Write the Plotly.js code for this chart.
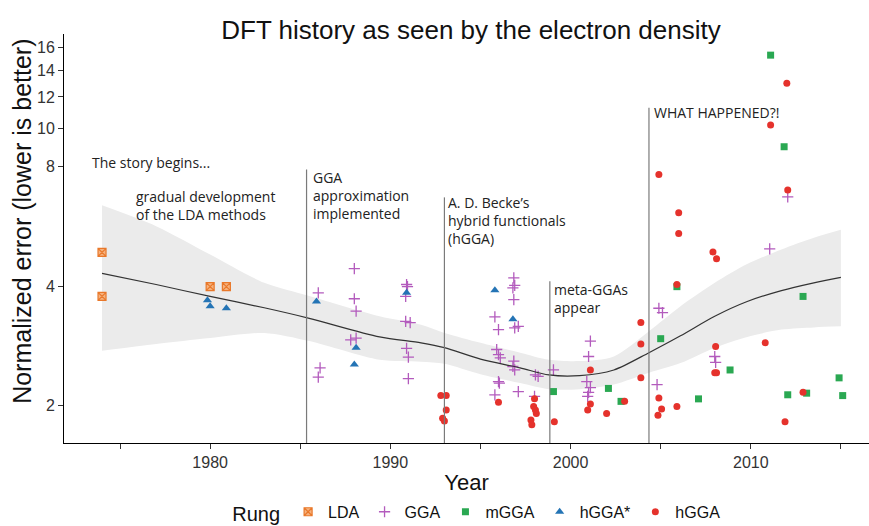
<!DOCTYPE html>
<html>
<head>
<meta charset="utf-8">
<script src="https://cdn.plot.ly/plotly-3.0.1.min.js"></script>
<style>html,body{margin:0;padding:0;background:#fff;}#chart{width:869px;height:526px;}</style>
</head>
<body>
<div id="chart"></div>
<script>
// ---- data ----
var ldaYear = [1974.0, 1974.0, 1980.0, 1980.9];
var ldaErr  = [4.87, 3.77, 3.99, 3.99];

var ggaYear = [1986.0, 1986.1, 1986.0, 1988.0, 1988.0, 1988.1, 1987.8, 1988.1,
  1990.9, 1990.95, 1990.85, 1990.85, 1991.1, 1990.9, 1991.0, 1991.0,
  1996.85, 1996.9, 1996.8, 1996.85, 1995.8, 1996.0, 1996.9, 1997.1,
  1995.9, 1996.0, 1996.1, 1996.85, 1996.8, 1996.9, 1998.05, 1998.2,
  1996.0, 1996.05, 1995.8, 1997.1, 1998.0, 1999.05,
  2001.1, 2001.0, 2000.9, 2001.1, 2001.0, 2000.95,
  2004.9, 2005.1, 2004.8, 2008.0, 2008.05, 2011.05, 2012.05];
var ggaErr = [3.85, 2.49, 2.36, 4.43, 3.72, 3.46, 2.93, 2.96,
  4.04, 3.99, 3.77, 3.26, 3.24, 2.79, 2.65, 2.34,
  4.20, 4.02, 3.96, 3.70, 3.35, 3.11, 3.14, 3.17,
  2.77, 2.69, 2.64, 2.59, 2.51, 2.46, 2.39, 2.37,
  2.30, 2.28, 2.13, 2.17, 2.11, 2.46,
  2.91, 2.66, 2.30, 2.22, 2.16, 2.11,
  3.52, 3.43, 2.26, 2.66, 2.57, 4.97, 6.72];

var mggaYear = [1999.05, 2002.1, 2002.8, 2005.0, 2005.9, 2007.1, 2008.85,
  2011.1, 2011.85, 2012.05, 2013.1, 2012.9, 2014.9, 2015.1];
var mggaErr = [2.17, 2.21, 2.05, 2.95, 3.99, 2.08, 2.46,
  15.3, 8.99, 2.13, 2.15, 3.77, 2.35, 2.12];

var hggaStarYear = [1979.85, 1980.0, 1980.9, 1985.9, 1988.1, 1988.0, 1990.9, 1995.8, 1996.8];
var hggaStarErr  = [3.69, 3.56, 3.52, 3.66, 2.80, 2.54, 3.85, 3.91, 3.30];

var hggaYear = [1992.8, 1993.1, 1993.1, 1992.9, 1993.0, 1996.0,
  1998.0, 1997.95, 1998.05, 1998.1, 1997.8, 1997.85, 1999.1,
  2001.1, 2001.1, 2000.95, 2003.0, 2002.0,
  2003.9, 2003.9, 2003.9, 2004.9, 2005.05, 2004.85, 2004.9,
  2006.0, 2006.0, 2005.9, 2005.9, 2007.9, 2008.1, 2010.8, 2008.05,
  2008.0, 2008.1, 2012.9, 2011.9, 2011.1, 2012.0, 2012.05];
var hggaErr = [2.12, 2.12, 1.95, 1.86, 1.83, 2.04,
  2.08, 1.99, 1.95, 1.91, 1.84, 1.79, 1.82,
  2.46, 2.02, 1.95, 2.05, 1.91,
  3.24, 2.86, 2.35, 2.09, 1.96, 1.89, 7.65,
  6.13, 5.43, 4.04, 1.99, 4.88, 4.69, 2.88, 2.82,
  2.42, 2.42, 2.16, 1.82, 10.2, 12.99, 6.99];

// smoothed trend and its confidence band
var smoothYear  = [1974, 1977, 1980, 1983, 1985.5, 1989.4, 1991.7, 1993, 1995, 1997.2, 1998.8, 2000.5, 2002.4, 2004.35, 2006.1, 2008, 2009.8, 2011.7, 2013.5, 2015];
var smoothFit   = [4.31, 4.04, 3.77, 3.53, 3.32, 2.98, 2.88, 2.80, 2.62, 2.49, 2.39, 2.38, 2.46, 2.72, 3.00, 3.36, 3.66, 3.90, 4.08, 4.21];
var smoothUpper = [6.40, 5.67, 4.81, 4.08, 3.78, 3.36, 3.20, 3.05, 2.88, 2.72, 2.61, 2.59, 2.66, 3.08, 3.56, 4.08, 4.55, 4.95, 5.30, 5.55];
var smoothLower = [2.75, 2.86, 2.96, 3.05, 2.91, 2.61, 2.58, 2.55, 2.40, 2.28, 2.20, 2.20, 2.26, 2.42, 2.56, 2.80, 2.98, 3.11, 3.15, 3.17];

// milestones
var eventYear = [1985.35, 1993.0, 1998.85, 2004.35];
var eventTop  = [7.88, 6.70, 4.12, 11.28];

var xTickVals = [1975, 1980, 1985, 1990, 1995, 2000, 2005, 2010, 2015];
var xTickText = ['', '1980', '', '1990', '', '2000', '', '2010', ''];
var yTickVals = [2, 4, 8, 10, 12, 14, 16];
var yTickText = ['2', '4', '8', '10', '12', '14', '16'];

// ---- traces ----
var traces = [
  {x: smoothYear, y: smoothLower, type: 'scatter', mode: 'lines',
   line: {width: 0, color: 'rgba(0,0,0,0)', shape: 'spline', smoothing: 0.8}, hoverinfo: 'skip', showlegend: false},
  {x: smoothYear, y: smoothUpper, type: 'scatter', mode: 'lines', fill: 'tonexty', fillcolor: '#ebebeb',
   line: {width: 0, color: 'rgba(0,0,0,0)', shape: 'spline', smoothing: 0.8}, hoverinfo: 'skip', showlegend: false},
  {x: ldaYear, y: ldaErr, type: 'scatter', mode: 'markers', name: 'LDA',
   marker: {symbol: 'square-x', size: 8, color: '#f6b27e', line: {color: '#e9782a', width: 1.2}}},
  {x: ggaYear, y: ggaErr, type: 'scatter', mode: 'markers', name: 'GGA',
   marker: {symbol: 'cross-thin-open', size: 8, color: '#b35bbd', line: {color: '#b35bbd', width: 1.3}}},
  {x: mggaYear, y: mggaErr, type: 'scatter', mode: 'markers', name: 'mGGA',
   marker: {symbol: 'square', size: 7, color: '#2aa852'}},
  {x: hggaStarYear, y: hggaStarErr, type: 'scatter', mode: 'markers', name: 'hGGA*',
   marker: {symbol: 'triangle-up', size: 8, color: '#2474b5'}},
  {x: hggaYear, y: hggaErr, type: 'scatter', mode: 'markers', name: 'hGGA',
   marker: {symbol: 'circle', size: 7, color: '#e5322c'}},
  {x: smoothYear, y: smoothFit, type: 'scatter', mode: 'lines', line: {color: '#333333', width: 1.2, shape: 'spline', smoothing: 0.8},
   hoverinfo: 'skip', showlegend: false}
];

var yBottom = Math.pow(10, 0.2068);
var shapes = eventYear.map(function (yr, i) {
  return {type: 'line', xref: 'x', yref: 'y', x0: yr, x1: yr, y0: yBottom, y1: eventTop[i],
          line: {color: '#7a7a7a', width: 1.2}};
});

var noteFont = {family: 'Open Sans, sans-serif', size: 14, color: '#222'};
function note(text, yr, val) {
  return {text: text, x: yr, y: Math.log10(val), xref: 'x', yref: 'y', xanchor: 'left', yanchor: 'middle',
          align: 'left', showarrow: false, font: noteFont};
}
var axisFont = 'Liberation Sans, Arial, sans-serif';
var annotations = [
  note('The story begins...', 1973.35, 8.21),
  note('gradual development<br>of the LDA methods', 1975.75, 6.39),
  note('GGA<br>approximation<br>implemented', 1985.6, 6.79),
  note('A. D. Becke\u2019s<br>hybrid functionals<br>(hGGA)', 1993.1, 5.87),
  note('meta-GGAs<br>appear', 1998.95, 3.73),
  note('WHAT HAPPENED?!', 2004.5, 10.96),
  {text: 'Normalized error (lower is better)', textangle: -90, xref: 'paper', yref: 'paper',
   x: -0.052, y: 0.541, xanchor: 'center', yanchor: 'middle', showarrow: false,
   font: {family: axisFont, size: 25, color: '#111'}}
];

var layout = {
  width: 869, height: 526,
  margin: {l: 64, r: 0, t: 34, b: 83},
  paper_bgcolor: '#ffffff', plot_bgcolor: '#ffffff',
  font: {family: axisFont, color: '#222'},
  title: {text: 'DFT history as seen by the electron density', font: {size: 26, color: '#111', family: axisFont},
          x: 0.542, xanchor: 'center', y: 0.944, yanchor: 'middle', yref: 'container'},
  xaxis: {range: [1971.89, 2016.56], tickvals: xTickVals, ticktext: xTickText,
          showgrid: false, zeroline: false, showline: true, linecolor: '#000', linewidth: 1,
          ticks: 'outside', ticklen: 5, tickcolor: '#333', tickfont: {size: 16, color: '#333'},
          title: {text: 'Year', font: {size: 22, color: '#111'}, standoff: 9}},
  yaxis: {type: 'log', range: [0.2068, 1.238], tickvals: yTickVals, ticktext: yTickText,
          showgrid: false, zeroline: false, showline: true, linecolor: '#000', linewidth: 1,
          ticks: 'outside', ticklen: 5, tickcolor: '#333', tickfont: {size: 16, color: '#333'}},
  showlegend: true,
  legend: {orientation: 'h', traceorder: 'normal', xref: 'container', yref: 'container', x: 0.265, xanchor: 'left',
           y: 0.025, yanchor: 'middle', font: {size: 16, color: '#111'},
           title: {text: 'Rung', side: 'left', font: {size: 20, color: '#111'}},
           itemwidth: 30, tracegroupgap: 0, bgcolor: 'rgba(0,0,0,0)'},
  shapes: shapes,
  annotations: annotations
};

Plotly.newPlot('chart', traces, layout, {displayModeBar: false, staticPlot: true});
</script>
</body>
</html>
